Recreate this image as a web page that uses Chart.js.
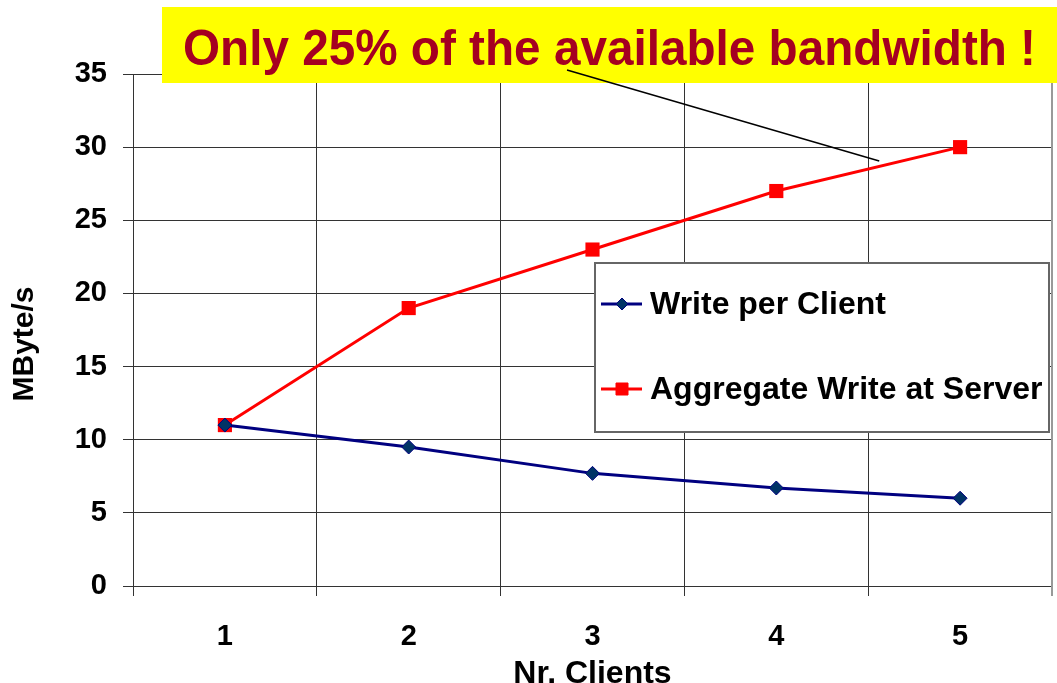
<!DOCTYPE html>
<html>
<head>
<meta charset="utf-8">
<script src="https://cdn.jsdelivr.net/npm/chart.js@4"></script>
<style>
  html, body { margin: 0; padding: 0; background: #fff; }
  canvas { display: block; }
</style>
</head>
<body>
<canvas id="myChart" width="1057" height="683"></canvas>
<script>
const clients = ['1', '2', '3', '4', '5'];
const writePerClient = [11, 9.5, 7.7, 6.7, 6.0];
const aggregateWrite = [11, 19, 23, 27, 30];
const headline = 'Only 25% of the available bandwidth !';
const yTitle = 'MByte/s';

const FONT = '"Liberation Sans", Arial, sans-serif';

// yellow banner with the pointer line to the aggregate curve
const bannerPlugin = {
    id: 'banner',
    afterDraw(chart) {
        const ctx = chart.ctx;
        const x = chart.scales.x, y = chart.scales.y;
        ctx.save();
        ctx.fillStyle = '#ffff00';
        ctx.fillRect(162, 7, 895, 76);
        ctx.fillStyle = '#a50021';
        ctx.font = 'bold 50px ' + FONT;
        ctx.textBaseline = 'alphabetic';
        // squeeze the text a little so it fits the banner
        const w = ctx.measureText(headline).width;
        ctx.save();
        ctx.translate(183, 65);
        ctx.scale(853 / w, 1);
        ctx.fillText(headline, 0, 0);
        ctx.restore();
        ctx.strokeStyle = '#000';
        ctx.lineWidth = 1.5;
        ctx.beginPath();
        ctx.moveTo(567, 70);
        ctx.lineTo(x.getPixelForValue(3.56), y.getPixelForValue(29.05));
        ctx.stroke();
        ctx.restore();
    }
};

// boxed legend inside the plot area, plus the vertical axis title
const boxLegendPlugin = {
    id: 'boxLegend',
    afterDatasetsDraw(chart) {
        const ctx = chart.ctx;
        const area = chart.chartArea;
        const left = 595, top = 263, w = area.right - 3 - left, h = 169;
        ctx.save();
        // grey frame on the right side of the plot
        ctx.strokeStyle = '#999';
        ctx.lineWidth = 2;
        ctx.beginPath();
        ctx.moveTo(area.right, area.top);
        ctx.lineTo(area.right, area.bottom + 10);
        ctx.stroke();

        ctx.fillStyle = '#fff';
        ctx.fillRect(left, top, w, h);
        ctx.strokeStyle = '#666';
        ctx.lineWidth = 2;
        ctx.strokeRect(left, top, w, h);
        const rows = [304, 389];
        chart.data.datasets.forEach((ds, i) => {
            const cy = rows[i];
            ctx.strokeStyle = ds.borderColor;
            ctx.lineWidth = 3;
            ctx.beginPath();
            ctx.moveTo(601, cy);
            ctx.lineTo(642, cy);
            ctx.stroke();
            ctx.fillStyle = ds.pointBackgroundColor;
            ctx.strokeStyle = ds.pointBorderColor;
            ctx.lineWidth = 1;
            ctx.beginPath();
            if (ds.pointStyle === 'rectRot') {
                ctx.moveTo(622, cy - 6);
                ctx.lineTo(628, cy);
                ctx.lineTo(622, cy + 6);
                ctx.lineTo(616, cy);
                ctx.closePath();
            } else {
                ctx.rect(616, cy - 6, 12, 12);
            }
            ctx.fill();
            ctx.stroke();
            ctx.fillStyle = '#000';
            ctx.font = 'bold 32px ' + FONT;
            ctx.textBaseline = 'middle';
            ctx.fillText(ds.label, 650, cy + 1);
        });

        // y axis title, sits a bit below the middle of the axis
        ctx.translate(25, 344);
        ctx.rotate(-Math.PI / 2);
        ctx.font = 'bold 30px ' + FONT;
        ctx.textAlign = 'center';
        ctx.textBaseline = 'middle';
        ctx.fillStyle = '#000';
        ctx.fillText(yTitle, 0, 0);
        ctx.restore();
    }
};

const canvas = document.getElementById('myChart');
const myChart = new Chart(canvas, {
    type: 'line',
    data: {
        labels: clients,
        datasets: [{
            label: 'Write per Client',
            data: writePerClient,
            borderColor: '#000080',
            borderWidth: 3,
            pointStyle: 'rectRot',
            pointRadius: 7,
            pointBackgroundColor: '#003366',
            pointBorderColor: '#000080',
            pointBorderWidth: 1,
            tension: 0
        }, {
            label: 'Aggregate Write at Server',
            data: aggregateWrite,
            borderColor: '#ff0000',
            borderWidth: 3,
            pointStyle: 'rect',
            pointRadius: 10,
            pointBackgroundColor: '#ff0000',
            pointBorderColor: '#ff0000',
            pointBorderWidth: 0,
            tension: 0
        }]
    },
    options: {
        responsive: false,
        animation: false,
        layout: { autoPadding: false, padding: { top: 74, right: 5, left: 0, bottom: 0 } },
        plugins: {
            legend: { display: false },
            tooltip: { enabled: false }
        },
        scales: {
            x: {
                offset: true,
                grid: { offset: true, color: '#333', lineWidth: 1, tickLength: 10 },
                border: { color: '#333', width: 1 },
                ticks: { color: '#000', padding: 24, font: { family: FONT, size: 29, weight: 'bold' } },
                title: {
                    display: true, text: 'Nr. Clients', color: '#000',
                    padding: { top: 0, bottom: -10 },
                    font: { family: FONT, size: 32, weight: 'bold' }
                },
                afterFit(scale) { scale.height = 97; }
            },
            y: {
                min: 0,
                max: 35,
                ticks: { stepSize: 5, color: '#000', padding: 16, font: { family: FONT, size: 29, weight: 'bold' } },
                grid: { color: '#333', lineWidth: 1, tickLength: 10 },
                border: { color: '#333', width: 1 },
                afterFit(scale) { scale.width = 133; }
            }
        }
    },
    plugins: [boxLegendPlugin, bannerPlugin]
});
myChart.update();
</script>
</body>
</html>
